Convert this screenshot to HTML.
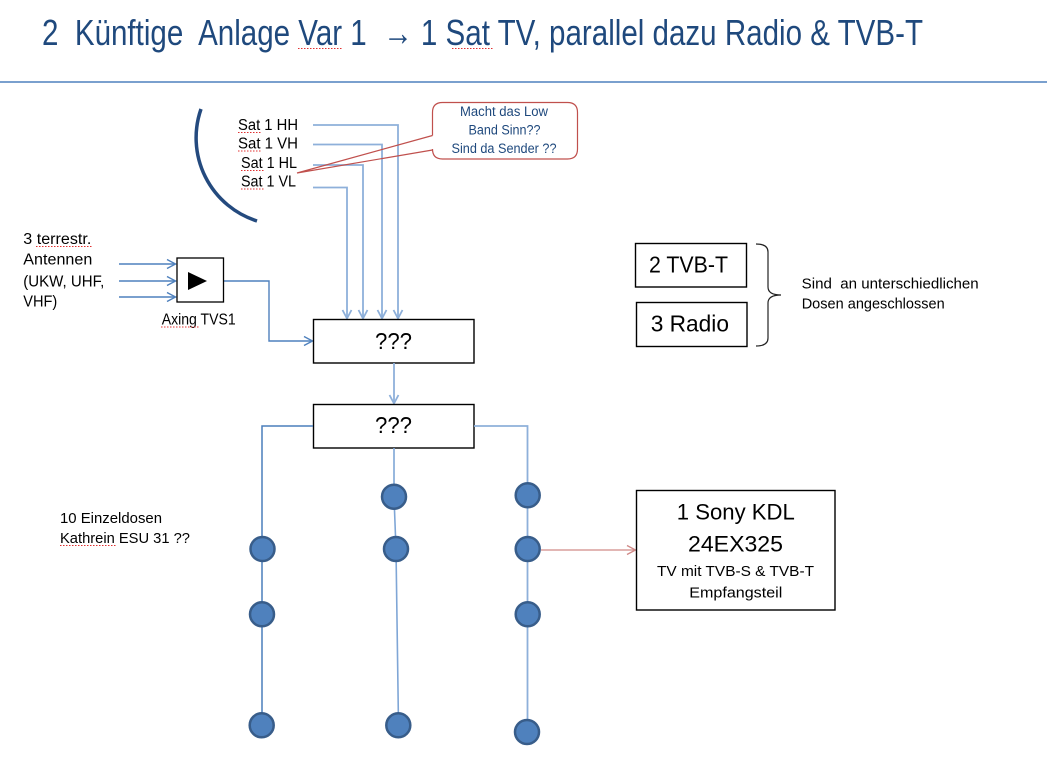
<!DOCTYPE html>
<html>
<head>
<meta charset="utf-8">
<style>
  html, body { margin: 0; padding: 0; background: #fff; }
  body { width: 1047px; height: 766px; overflow: hidden; }
  svg { display: block; }
  text { font-family: "Liberation Sans", "DejaVu Sans", sans-serif; }
</style>
</head>
<body>
<svg width="1047" height="766" viewBox="0 0 1047 766" xmlns="http://www.w3.org/2000/svg">
  <rect x="0" y="0" width="1047" height="766" fill="#ffffff"/>

  <!-- Title -->
  <text x="42" y="45" font-size="36" fill="#1F497D" textLength="881" lengthAdjust="spacingAndGlyphs" xml:space="preserve">2  Künftige  Anlage Var 1  <tspan font-weight="bold">→</tspan> 1 Sat TV, parallel dazu Radio &amp; TVB-T</text>
  <g stroke="#E03030" stroke-width="1" stroke-dasharray="1.5 1.5" fill="none">
    <line x1="298" y1="48.5" x2="342" y2="48.5"/>
    <line x1="452" y1="48.5" x2="494" y2="48.5"/>
  </g>
  <line x1="0" y1="82" x2="1047" y2="82" stroke="#4F81BD" stroke-width="1.5"/>

  <!-- Dish arc -->
  <path d="M 201 109 A 87.3 87.3 0 0 0 257 221" fill="none" stroke="#244A7E" stroke-width="3.5"/>

  <!-- Sat labels -->
  <g font-size="15.5" fill="#000">
    <text x="238" y="130" textLength="60" lengthAdjust="spacingAndGlyphs">Sat 1 HH</text>
    <text x="238" y="148.5" textLength="60" lengthAdjust="spacingAndGlyphs">Sat 1 VH</text>
    <text x="241" y="168" textLength="56" lengthAdjust="spacingAndGlyphs">Sat 1 HL</text>
    <text x="241" y="186.5" textLength="55" lengthAdjust="spacingAndGlyphs">Sat 1 VL</text>
  </g>
  <g stroke="#E03030" stroke-width="1" stroke-dasharray="1.5 1.5" fill="none">
    <line x1="238" y1="132.5" x2="262" y2="132.5"/>
    <line x1="238" y1="151" x2="262" y2="151"/>
    <line x1="241" y1="170.5" x2="265" y2="170.5"/>
    <line x1="241" y1="189" x2="265" y2="189"/>
  </g>

  <!-- Sat lines -->
  <g fill="none" stroke="#8EB0DA" stroke-width="1.8">
    <path d="M313 125 H398 V318"/>
    <path d="M313 144.5 H382 V318"/>
    <path d="M313 165 H363 V318"/>
    <path d="M313 187.5 H347 V318"/>
    <polyline points="393.5,310 398,318.5 402.5,310"/>
    <polyline points="377.5,310 382,318.5 386.5,310"/>
    <polyline points="358.5,310 363,318.5 367.5,310"/>
    <polyline points="342.5,310 347,318.5 351.5,310"/>
  </g>

  <!-- Callout -->
  <path d="M 442.5 102.5 H 567.5 Q 577.5 102.5 577.5 112.5 V 149 Q 577.5 159 567.5 159 H 442.5 Q 432.5 159 432.5 149 V 112.5 Q 432.5 102.5 442.5 102.5 Z" fill="#ffffff" stroke="none"/>
  <path d="M 432.5 135.5 V 112.5 Q 432.5 102.5 442.5 102.5 H 567.5 Q 577.5 102.5 577.5 112.5 V 149 Q 577.5 159 567.5 159 H 442.5 Q 432.5 159 432.5 149 V 150" fill="none" stroke="#C0504D" stroke-width="1.2"/>
  <path d="M 432.5 135.5 L 297 173 L 432.5 150" fill="none" stroke="#C0504D" stroke-width="1.2"/>
  <g font-size="13.5" fill="#1F497D" text-anchor="middle">
    <text x="504" y="116" textLength="88" lengthAdjust="spacingAndGlyphs">Macht das Low</text>
    <text x="504.5" y="134.5" textLength="72" lengthAdjust="spacingAndGlyphs">Band Sinn??</text>
    <text x="504" y="152.8" textLength="105" lengthAdjust="spacingAndGlyphs">Sind da Sender ??</text>
  </g>

  <!-- Terrestrial antennas -->
  <g font-size="15.5" fill="#000">
    <text x="23.3" y="244" textLength="68" lengthAdjust="spacingAndGlyphs">3 terrestr.</text>
    <text x="23.3" y="264.3" textLength="69" lengthAdjust="spacingAndGlyphs">Antennen</text>
    <text x="23.3" y="286.5" textLength="81" lengthAdjust="spacingAndGlyphs">(UKW, UHF,</text>
    <text x="23.3" y="306.5" textLength="34" lengthAdjust="spacingAndGlyphs">VHF)</text>
    <text x="161.7" y="324.3" textLength="74" lengthAdjust="spacingAndGlyphs">Axing TVS1</text>
  </g>
  <g stroke="#E03030" stroke-width="1" stroke-dasharray="1.5 1.5" fill="none">
    <line x1="36" y1="246.5" x2="92" y2="246.5"/>
    <line x1="161" y1="327" x2="200" y2="327"/>
  </g>
  <g fill="none" stroke="#4F81BD" stroke-width="1.4">
    <line x1="119" y1="264" x2="175.5" y2="264"/>
    <line x1="119" y1="281" x2="175.5" y2="281"/>
    <line x1="119" y1="297" x2="175.5" y2="297"/>
    <polyline points="167,259.5 175.5,264 167,268.5"/>
    <polyline points="167,276.5 175.5,281 167,285.5"/>
    <polyline points="167,292.5 175.5,297 167,301.5"/>
    <path d="M224 281 H269 V341 H312"/>
    <polyline points="304,336.5 312.5,341 304,345.5"/>
  </g>
  <rect x="177" y="258" width="46.5" height="44" fill="#fff" stroke="#000" stroke-width="1.3"/>
  <polygon points="188,272 207,281 188,290" fill="#000"/>

  <!-- Boxes ??? -->
  <rect x="313.5" y="319.5" width="160.5" height="43.5" fill="#fff" stroke="#000" stroke-width="1.4"/>
  <text x="393.5" y="349" font-size="23" text-anchor="middle" fill="#000" textLength="37" lengthAdjust="spacingAndGlyphs">???</text>
  <line x1="394" y1="363" x2="394" y2="403" stroke="#8EB0DA" stroke-width="1.8"/>
  <polyline points="389.5,395 394,403.5 398.5,395" fill="none" stroke="#8EB0DA" stroke-width="1.8"/>
  <rect x="313.5" y="404.5" width="160.5" height="43.5" fill="#fff" stroke="#000" stroke-width="1.4"/>
  <text x="393.5" y="433" font-size="23" text-anchor="middle" fill="#000" textLength="37" lengthAdjust="spacingAndGlyphs">???</text>

  <!-- Distribution lines -->
  <path d="M313 426 H262 V725" fill="none" stroke="#4A7EBB" stroke-width="1.5"/>
  <path d="M474 426 H527.5 V732" fill="none" stroke="#8EB0DA" stroke-width="1.8"/>
  <path d="M394 448 L394 497 L396 549 L398.5 725" fill="none" stroke="#7FA6D6" stroke-width="1.6"/>

  <!-- Red arrow to TV -->
  <line x1="541" y1="550" x2="635" y2="550" stroke="#D08A88" stroke-width="1.3"/>
  <polyline points="627,545.5 635.5,550 627,554.5" fill="none" stroke="#D08A88" stroke-width="1.3"/>

  <!-- Circles -->
  <g fill="#4F81BD" stroke="#385D8A" stroke-width="2.5">
    <circle cx="262.5" cy="549" r="12"/>
    <circle cx="262" cy="614.3" r="12"/>
    <circle cx="261.7" cy="725.3" r="12"/>
    <circle cx="394" cy="496.7" r="12"/>
    <circle cx="396" cy="549" r="12"/>
    <circle cx="398.3" cy="725.3" r="12"/>
    <circle cx="527.7" cy="495.3" r="12"/>
    <circle cx="527.7" cy="549" r="12"/>
    <circle cx="527.7" cy="614.3" r="12"/>
    <circle cx="527" cy="732" r="12"/>
  </g>

  <!-- 10 Einzeldosen -->
  <g font-size="15" fill="#000">
    <text x="60" y="523" textLength="102" lengthAdjust="spacingAndGlyphs">10 Einzeldosen</text>
    <text x="60" y="543" textLength="130" lengthAdjust="spacingAndGlyphs">Kathrein ESU 31 ??</text>
  </g>
  <line x1="60" y1="545.5" x2="117" y2="545.5" stroke="#E03030" stroke-width="1" stroke-dasharray="1.5 1.5"/>

  <!-- Sony TV box -->
  <rect x="636.5" y="490.5" width="198.5" height="119.5" fill="#fff" stroke="#000" stroke-width="1.4"/>
  <g fill="#000" text-anchor="middle">
    <text x="735.8" y="519.3" font-size="22.5" textLength="118" lengthAdjust="spacingAndGlyphs">1 Sony KDL</text>
    <text x="735.5" y="551.7" font-size="22.5" textLength="95" lengthAdjust="spacingAndGlyphs">24EX325</text>
    <text x="735.5" y="576" font-size="15" textLength="157" lengthAdjust="spacingAndGlyphs">TV mit TVB-S &amp; TVB-T</text>
    <text x="735.8" y="597.3" font-size="15" textLength="93" lengthAdjust="spacingAndGlyphs">Empfangsteil</text>
  </g>

  <!-- TVB-T / Radio -->
  <rect x="635.5" y="243.5" width="111" height="43.5" fill="#fff" stroke="#000" stroke-width="1.4"/>
  <text x="649" y="272.7" font-size="23" fill="#000" textLength="79" lengthAdjust="spacingAndGlyphs">2 TVB-T</text>
  <rect x="636.5" y="302.5" width="110.5" height="44" fill="#fff" stroke="#000" stroke-width="1.4"/>
  <text x="650.7" y="331.7" font-size="23" fill="#000" textLength="78.3" lengthAdjust="spacingAndGlyphs">3 Radio</text>

  <!-- Brace -->
  <path d="M756 244 Q768 244 768 252 V287 Q768 295 781 295 Q768 295 768 303 V338 Q768 346 756 346" fill="none" stroke="#222" stroke-width="1.2"/>
  <g font-size="14.5" fill="#000">
    <text x="801.7" y="288.3" textLength="177" lengthAdjust="spacingAndGlyphs" xml:space="preserve">Sind  an unterschiedlichen</text>
    <text x="801.7" y="308.3" textLength="143" lengthAdjust="spacingAndGlyphs">Dosen angeschlossen</text>
  </g>
</svg>
</body>
</html>
